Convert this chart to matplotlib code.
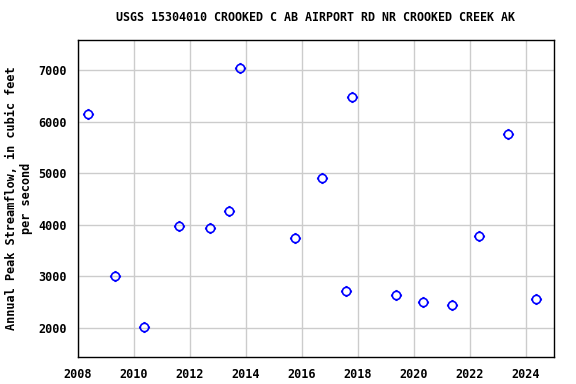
import matplotlib
matplotlib.use('Agg')
from matplotlib import pyplot as plt
from matplotlib.path import Path

# Annual peak streamflow
years = [2008.36, 2009.32, 2010.36, 2011.61, 2012.71, 2013.39, 2013.79,
         2015.75, 2016.71, 2017.57, 2017.79, 2019.36, 2020.32, 2021.36,
         2022.32, 2023.36, 2024.36]
peaks = [6150, 3000, 2010, 3970, 3930, 4260, 7040,
         3740, 4900, 2710, 6480, 2630, 2500, 2440,
         3780, 5750, 2560]
xticks = [2008, 2010, 2012, 2014, 2016, 2018, 2020, 2022, 2024]
yticks = [2000, 3000, 4000, 5000, 6000, 7000]

plt.rcParams['font.family'] = ['DejaVu Sans Mono']
plt.rcParams['font.weight'] = 'bold'

# open circle with four short ticks, like the USGS marker
circ = Path.circle((0, 0), 0.75)
ticks = Path([(0, 0.75), (0, 1), (0, -0.75), (0, -1),
              (0.75, 0), (1, 0), (-0.75, 0), (-1, 0)],
             [Path.MOVETO, Path.LINETO] * 4)
marker = Path.make_compound_path(circ, ticks)

fig = plt.figure(figsize=(5.76, 3.84), dpi=100)
ax = fig.add_axes([0.1354, 0.0703, 0.8264, 0.8255])

ax.plot(years, peaks, linestyle='none', marker=marker, markersize=8,
        markerfacecolor='none', markeredgecolor='#0000ff', markeredgewidth=1.2,
        zorder=3)

ax.set_xlim(2008, 2025)
ax.set_ylim(1438, 7581)
ax.set_xticks(xticks)
ax.set_yticks(yticks)
ax.tick_params(length=0, labelsize=8.5, pad=8)
ax.grid(True, color='#cccccc', linewidth=1)
ax.set_axisbelow(True)
for s in ax.spines.values():
    s.set_linewidth(1)
    s.set_color('black')

ax.set_title('USGS 15304010 CROOKED C AB AIRPORT RD NR CROOKED CREEK AK',
             fontsize=8.4, fontweight='bold', pad=14)
ax.set_ylabel('Annual Peak Streamflow, in cubic feet\nper second',
              fontsize=8.6, fontweight='bold', labelpad=4)

fig.savefig('out.png', dpi=100)
